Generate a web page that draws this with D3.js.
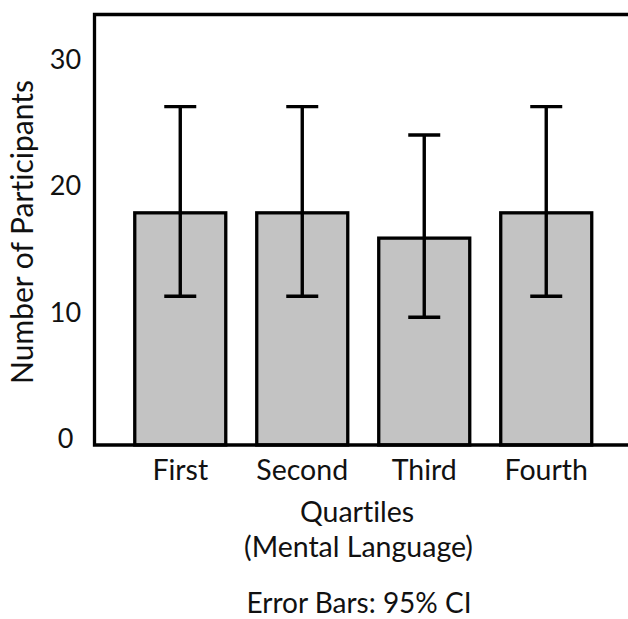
<!DOCTYPE html>
<html>
<head>
<meta charset="utf-8">
<script src="https://cdn.jsdelivr.net/npm/d3@7"></script>
<style>
  html, body { margin: 0; padding: 0; background: #fff; }
  svg text { font-family: Lato, "Open Sans", sans-serif; fill: #111; font-variant-ligatures: none; }
</style>
</head>
<body>
<svg id="chart" width="628" height="619"></svg>
<script>
// quartile counts with 95% CI
const categories = ['First', 'Second', 'Third', 'Fourth'];
const means = [18, 18, 16, 18];
const ciLower = [11.4, 11.4, 9.75, 11.4];
const ciUpper = [26.4, 26.4, 24.15, 26.4];
const yTicks = [0, 10, 20, 30];

const svg = d3.select('#chart');

const plotLeft = 94.5, plotTop = 14.5, plotBottom = 445, plotRight = 640;

const y = d3.scaleLinear().domain([0, 33.68]).range([440.5, plotTop]);
const x = d3.scaleBand()
  .domain(categories)
  .range([plotLeft, 632])
  .paddingInner(0.254)
  .paddingOuter(0.33);

// bars (they sit on the bottom frame line)
svg.append('g')
  .selectAll('rect')
  .data(means)
  .enter()
  .append('rect')
  .attr('x', (d, i) => x(categories[i]))
  .attr('y', (d) => y(d))
  .attr('width', x.bandwidth())
  .attr('height', (d) => plotBottom - y(d))
  .style('fill', '#c3c3c3')
  .style('stroke', '#000')
  .style('stroke-width', 3.3);

// error bars
const capW = 16;
const err = svg.append('g').style('stroke', '#000').style('stroke-width', 3.4);
categories.forEach((c, i) => {
  const cx = x(c) + x.bandwidth() / 2;
  err.append('line')
    .attr('x1', cx).attr('x2', cx)
    .attr('y1', y(ciLower[i])).attr('y2', y(ciUpper[i]));
  err.append('line')
    .attr('x1', cx - capW).attr('x2', cx + capW)
    .attr('y1', y(ciUpper[i])).attr('y2', y(ciUpper[i]));
  err.append('line')
    .attr('x1', cx - capW).attr('x2', cx + capW)
    .attr('y1', y(ciLower[i])).attr('y2', y(ciLower[i]));
});

// frame: left, top and bottom lines (runs off to the right edge)
svg.append('path')
  .attr('d', `M${plotRight},${plotTop}H${plotLeft}V${plotBottom}H${plotRight}`)
  .style('fill', 'none')
  .style('stroke', '#000')
  .style('stroke-width', 3.3);

// y axis labels
const yAxis = d3.axisLeft(y).tickValues(yTicks).tickSize(0).tickPadding(0);
const yg = svg.append('g')
  .attr('transform', `translate(65.5,-1.5)`)
  .call(yAxis);
yg.select('.domain').remove();
yg.selectAll('text')
  .attr('text-anchor', 'middle')
  .style('font-family', 'Lato, sans-serif')
  .style('font-size', '27px')
  .style('fill', '#111');

// x axis labels
const xAxis = d3.axisBottom(x).tickSize(0).tickPadding(0);
const xg = svg.append('g')
  .attr('transform', `translate(0,460)`)
  .call(xAxis);
xg.select('.domain').remove();
xg.selectAll('text')
  .style('font-family', 'Lato, sans-serif')
  .style('font-size', '28.5px')
  .style('fill', '#111');

// titles
svg.append('text')
  .attr('transform', 'translate(33,232) rotate(-90)')
  .attr('text-anchor', 'middle')
  .style('font-size', '30px')
  .text('Number of Participants');

svg.append('text')
  .attr('x', 357).attr('y', 522)
  .attr('text-anchor', 'middle')
  .style('font-size', '28.5px')
  .text('Quartiles');

svg.append('text')
  .attr('x', 358.5).attr('y', 557)
  .attr('text-anchor', 'middle')
  .style('font-size', '28.5px')
  .text('(Mental Language)');

svg.append('text')
  .attr('x', 359).attr('y', 613)
  .attr('text-anchor', 'middle')
  .style('font-size', '28px')
  .text('Error Bars: 95% CI');
</script>
</body>
</html>
